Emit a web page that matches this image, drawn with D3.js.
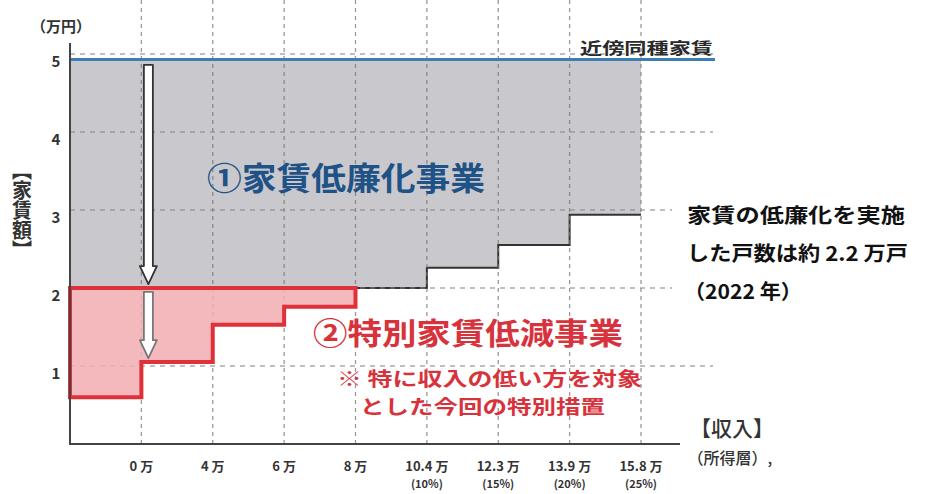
<!DOCTYPE html>
<html>
<head>
<meta charset="utf-8">
<script src="https://cdn.jsdelivr.net/npm/d3@7"></script>
<style>
  body { margin: 0; background: #fff; }
  svg { display: block; font-family: "Noto Sans CJK JP", "Noto Sans", sans-serif; }
</style>
</head>
<body>
<svg id="chart" width="938" height="494"></svg>
<script>
// --- data ---
const incomeTicks = ["0 万", "4 万", "6 万", "8 万", "10.4 万", "12.3 万", "13.9 万", "15.8 万"];
const incomeShares = ["", "", "", "", "(10%)", "(15%)", "(20%)", "(25%)"];
const rentTicks = [1, 2, 3, 4, 5];
const neighborRent = 4.93;                                   // 近傍同種家賃
const reducedRent = [2.0, 2.0, 2.0, 2.0, 2.0, 2.26, 2.55, 2.94]; // ① 下端（区間ごと）
const specialTop = 2.0;
const specialRent = [0.6, 1.05, 1.53, 1.76];                 // ② 下端（区間ごと）
const arrows = [{ from: 4.86, to: 2.05 }, { from: 1.95, to: 1.1 }];
const noteLines = ["家賃の低廉化を実施", "した戸数は約 2.2 万戸", "（2022 年）"];

const svg = d3.select("#chart");
const x = d3.scaleLinear().domain([0, 8]).range([70, 641]);
const y = d3.scaleLinear().domain([0, 5]).range([444, 54]);

// 区間データを階段状の点列に
const steps = (vals, top) => vals.flatMap((v, i) => [
  { i: i, lo: v, hi: top },
  { i: i + 1, lo: v, hi: top }
]);

const gMarks = svg.append("g");
const gOver = svg.append("g");

// 灰色: 家賃低廉化
gMarks.append("path")
  .datum(steps(reducedRent, neighborRent))
  .attr("d", d3.area().x(d => x(d.i)).y0(d => y(d.lo)).y1(d => y(d.hi)))
  .attr("fill", "#c9c9cd");

// 段差線 (灰色の下端, ②より右)
gMarks.append("path")
  .datum(steps(reducedRent.slice(4), neighborRent).map(d => ({ ...d, i: d.i + 4 })))
  .attr("d", d3.line().x(d => x(d.i)).y(d => y(d.lo)))
  .attr("fill", "none").attr("stroke", "#333").attr("stroke-width", 2);

// グリッド（面の上に重ねる）
gOver.selectAll("line.v").data(d3.range(1, 9)).join("line")
  .attr("x1", d => x(d)).attr("x2", d => x(d))
  .attr("y1", 0).attr("y2", y(0))
  .attr("stroke", "#777").attr("stroke-width", 1.3)
  .attr("stroke-dasharray", "4,4").attr("opacity", 0.75);
gOver.selectAll("line.h").data(rentTicks).join("line")
  .attr("x1", x(0)).attr("x2", 713)
  .attr("y1", d => y(d)).attr("y2", d => y(d))
  .attr("stroke", "#888").attr("stroke-width", 1.3)
  .attr("stroke-dasharray", "5,5").attr("opacity", 0.7);

// 赤: 特別家賃低減
svg.append("path")
  .datum(steps(specialRent, specialTop))
  .attr("d", d3.area().x(d => x(d.i)).y0(d => y(d.lo)).y1(d => y(d.hi)))
  .attr("fill", "#f2adb0").attr("fill-opacity", 0.85)
  .attr("stroke", "#e0303a").attr("stroke-width", 4)
  .attr("stroke-linejoin", "miter");

// 近傍同種家賃
svg.append("line")
  .attr("x1", x(0)).attr("x2", 715)
  .attr("y1", y(neighborRent)).attr("y2", y(neighborRent))
  .attr("stroke", "#3b7db5").attr("stroke-width", 3);
svg.append("text")
  .attr("x", 580).attr("y", 47).attr("dominant-baseline", "central")
  .attr("textLength", 133).attr("lengthAdjust", "spacingAndGlyphs")
  .attr("font-size", 16).attr("font-weight", 700).attr("fill", "#2a2a2a")
  .text("近傍同種家賃");

// 矢印
const ax = x(1) + 7;
svg.selectAll("path.arrow").data(arrows).join("path")
  .attr("class", "arrow")
  .attr("d", d => {
    const y0 = y(d.from), y1 = y(d.to), hw = 4.5, hh = 8.5, hl = 18;
    return `M${ax - hw},${y0}H${ax + hw}V${y1 - hl}H${ax + hh}L${ax},${y1}L${ax - hh},${y1 - hl}H${ax - hw}Z`;
  })
  .attr("fill", "#fff").attr("stroke", (d, i) => i ? "#777" : "#333")
  .attr("stroke-width", 1.8).attr("stroke-linejoin", "round");

// 軸
svg.append("line").attr("x1", x(0)).attr("x2", x(0)).attr("y1", 43).attr("y2", y(0))
  .attr("stroke", "#444").attr("stroke-width", 2);
svg.append("line").attr("x1", x(0) - 1).attr("x2", 680).attr("y1", y(0)).attr("y2", y(0))
  .attr("stroke", "#444").attr("stroke-width", 2);

svg.selectAll("text.ytick").data(rentTicks).join("text")
  .attr("x", 56).attr("y", d => y(d) + 6)
  .attr("text-anchor", "middle").attr("dominant-baseline", "central")
  .attr("font-size", 15).attr("font-weight", 700).attr("fill", "#333")
  .text(d => d);

svg.selectAll("text.xtick").data(incomeTicks).join("text")
  .attr("x", (d, i) => x(i + 1)).attr("y", 465)
  .attr("text-anchor", "middle").attr("dominant-baseline", "central")
  .attr("font-size", 13).attr("font-weight", 700).attr("fill", "#333")
  .text(d => d);
svg.selectAll("text.xsub").data(incomeShares).join("text")
  .attr("x", (d, i) => x(i + 1)).attr("y", 483)
  .attr("text-anchor", "middle").attr("dominant-baseline", "central")
  .attr("font-size", 11).attr("font-weight", 700).attr("fill", "#333")
  .text(d => d);

svg.append("text").attr("x", 61).attr("y", 25)
  .attr("text-anchor", "middle").attr("dominant-baseline", "central")
  .attr("font-size", 15).attr("font-weight", 700).attr("fill", "#333")
  .text("（万円）");

svg.append("text").attr("x", 22).attr("y", 210)
  .attr("text-anchor", "middle").attr("dominant-baseline", "central")
  .attr("writing-mode", "vertical-rl").attr("font-size", 20).attr("font-weight", 700)
  .attr("fill", "#333")
  .text("【家賃額】");

svg.append("text").attr("x", 732).attr("y", 427)
  .attr("text-anchor", "middle").attr("dominant-baseline", "central")
  .attr("font-size", 21).attr("font-weight", 500).attr("fill", "#333")
  .text("【収入】");
svg.append("text").attr("x", 730).attr("y", 457)
  .attr("text-anchor", "middle").attr("dominant-baseline", "central")
  .attr("font-size", 16).attr("font-weight", 500).attr("fill", "#333")
  .text("（所得層）,");

// 事業名
svg.append("text").attr("x", 207).attr("y", 176).attr("dominant-baseline", "central")
  .attr("textLength", 278).attr("lengthAdjust", "spacingAndGlyphs")
  .attr("font-size", 32).attr("font-weight", 700).attr("fill", "#1f5286")
  .text("①家賃低廉化事業");
svg.append("text").attr("x", 313).attr("y", 331).attr("dominant-baseline", "central")
  .attr("textLength", 310).attr("lengthAdjust", "spacingAndGlyphs")
  .attr("font-size", 30).attr("font-weight", 700).attr("fill", "#d8333c")
  .text("②特別家賃低減事業");
svg.append("text").attr("x", 337).attr("y", 377).attr("dominant-baseline", "central")
  .attr("textLength", 305).attr("lengthAdjust", "spacingAndGlyphs")
  .attr("font-size", 19).attr("font-weight", 700).attr("fill", "#d8333c")
  .text("※ 特に収入の低い方を対象");
svg.append("text").attr("x", 360).attr("y", 405).attr("dominant-baseline", "central")
  .attr("textLength", 245).attr("lengthAdjust", "spacingAndGlyphs")
  .attr("font-size", 19).attr("font-weight", 700).attr("fill", "#d8333c")
  .text("とした今回の特別措置");

// 右側注記
svg.append("rect").attr("x", 672).attr("y", 190).attr("width", 266).attr("height", 120)
  .attr("fill", "#fff");
const noteWidths = [218, 221, 118];
svg.selectAll("text.note").data(noteLines).join("text")
  .attr("x", (d, i) => i === 2 ? 684 : 687)
  .attr("y", (d, i) => 214 + i * 38)
  .attr("dominant-baseline", "central")
  .attr("textLength", (d, i) => noteWidths[i])
  .attr("lengthAdjust", "spacingAndGlyphs")
  .attr("font-size", 20).attr("font-weight", 700).attr("fill", "#111")
  .text(d => d);
</script>
</body>
</html>
